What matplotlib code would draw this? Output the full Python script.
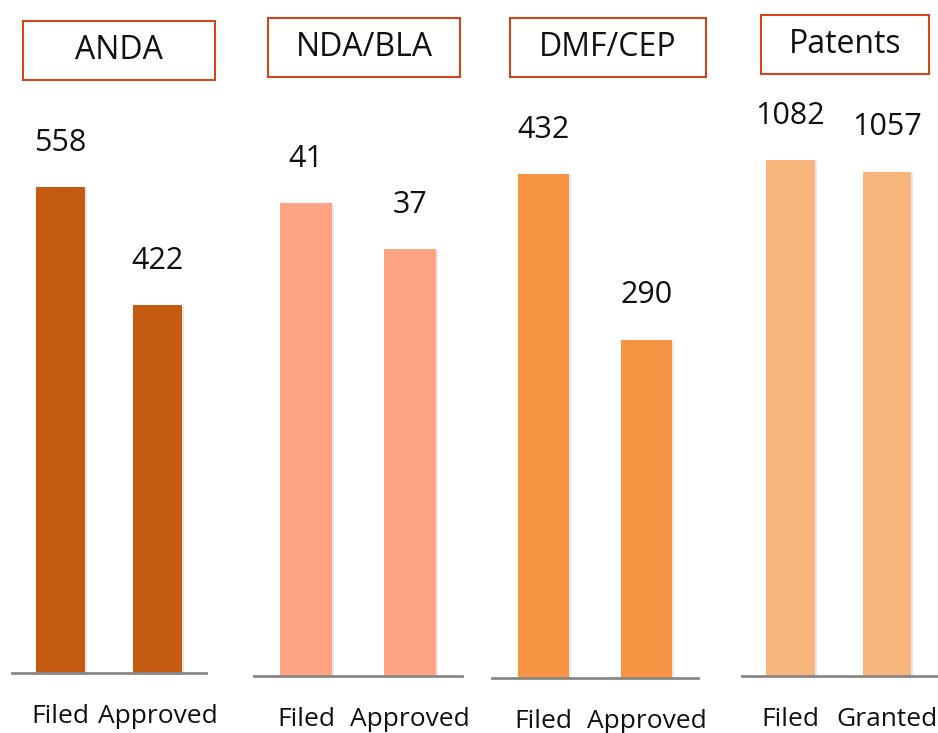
import matplotlib
matplotlib.use("Agg")
import matplotlib.pyplot as plt
from matplotlib.patches import Rectangle
import matplotlib.patheffects as pe

plt.rcParams['font.family'] = ['Open Sans', 'DejaVu Sans']

# Filing / approval counts per category
titles = ["ANDA", "NDA/BLA", "DMF/CEP", "Patents"]
bar_labels = [["Filed", "Approved"], ["Filed", "Approved"],
              ["Filed", "Approved"], ["Filed", "Granted"]]
filed = [558, 41, 432, 1082]
approved = [422, 37, 290, 1057]
colors = ["#C55A11", "#FFA385", "#F79443", "#F8B57D"]

W, H = 938, 733
fig = plt.figure(figsize=(W / 100, H / 100), dpi=100)

# panel geometry in pixels: axes left/right, baseline y, top of filed bar, x-limit right
panels = [(12, 206, 673, 187, 1.5), (254, 462, 676, 203, 1.5),
          (492, 698, 678, 174, 1.5), (742, 945, 676, 160, 1.6)]
# title boxes in pixels: left, top, right, bottom
boxes = [(23, 21, 215, 80), (268, 18, 460, 77),
         (510, 18, 706, 77), (761, 15, 929, 74)]

shadow = [pe.SimplePatchShadow(offset=(1.5, -1.0), alpha=0.18, shadow_rgbFace="#808080"),
          pe.Normal()]

for i in range(4):
    x0, x1, base, top, xr = panels[i]
    ax = fig.add_axes([x0 / W, 1 - base / H, (x1 - x0) / W, base / H])
    vals = [filed[i], approved[i]]
    # scale so the filed bar reaches its pixel height
    ymax = filed[i] * base / (base - top)
    bars = ax.bar([0, 1], vals, width=0.5, color=colors[i], zorder=2)
    for b in bars:
        b.set_path_effects(shadow)
    ax.set_xlim(-0.5, xr)
    ax.set_ylim(0, ymax)
    for x, v in zip([0, 1], vals):
        ax.annotate(str(v), xy=(x, v), xytext=(0, 32), textcoords="offset points",
                    ha="center", va="center", fontsize=22, color="#111111")
    for s in ["top", "left", "right"]:
        ax.spines[s].set_visible(False)
    ax.spines["bottom"].set_color("#888888")
    ax.spines["bottom"].set_linewidth(2)
    ax.set_yticks([])
    ax.set_xticks([0, 1], bar_labels[i])
    ax.tick_params(axis="x", length=0, pad=22, labelsize=19, labelcolor="#111111")

    bl, bt, br, bb = boxes[i]
    fig.patches.append(Rectangle((bl / W, 1 - bb / H), (br - bl) / W, (bb - bt) / H,
                                 transform=fig.transFigure, fill=False,
                                 edgecolor="#D2461C", linewidth=1.5))
    fig.text((bl + br) / 2 / W, 1 - (bt + bb) / 2 / H, titles[i],
             ha="center", va="center", fontsize=23, color="#111111")

fig.savefig("out.png", dpi=100, facecolor="white")
